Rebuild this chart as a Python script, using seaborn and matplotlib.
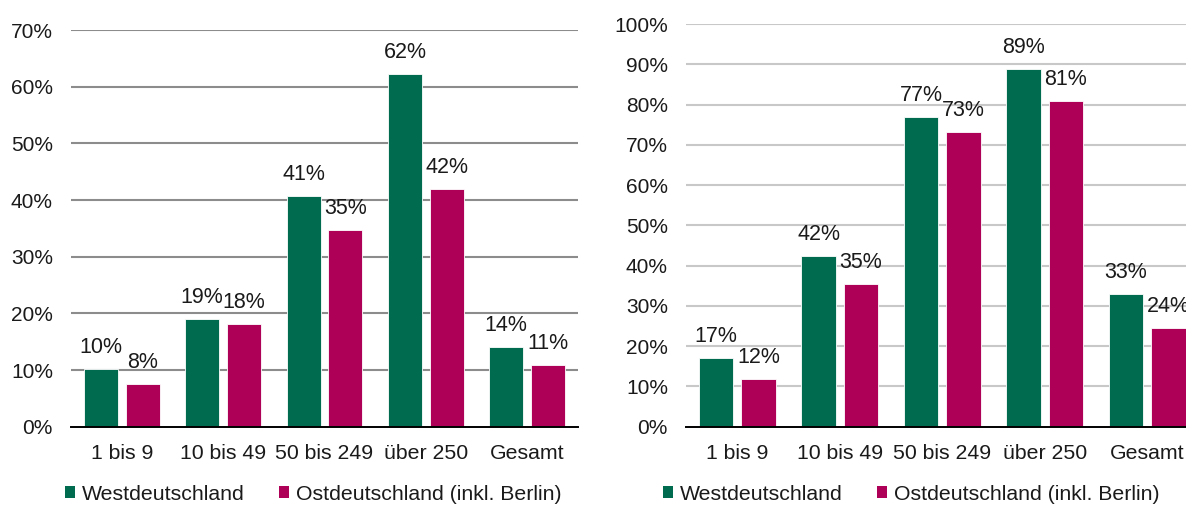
import matplotlib
matplotlib.use("Agg")
import matplotlib.pyplot as plt
from matplotlib.patches import Patch
import pandas as pd
import seaborn as sns

# Betriebsgrößenklassen (Beschäftigte)
categories = ["1 bis 9", "10 bis 49", "50 bis 249", "über 250", "Gesamt"]
regions = ["Westdeutschland", "Ostdeutschland (inkl. Berlin)"]

# Anteile in Prozent, linkes Diagramm
left_west = [10.1, 19.0, 40.7, 62.2, 14.1]
left_east = [7.6, 18.1, 34.7, 41.9, 10.9]

# Anteile in Prozent, rechtes Diagramm
right_west = [17.0, 42.4, 76.8, 88.8, 33.0]
right_east = [11.9, 35.4, 73.2, 80.9, 24.4]

left_ticks = [0, 10, 20, 30, 40, 50, 60, 70]
right_ticks = [0, 10, 20, 30, 40, 50, 60, 70, 80, 90, 100]

GREEN = "#006B4F"
MAGENTA = "#AE0057"
palette = {regions[0]: GREEN, regions[1]: MAGENTA}
TEXT = "#1a1a1a"


def long_frame(west, east):
    return pd.DataFrame({
        "Kategorie": categories * 2,
        "Region": [regions[0]] * len(categories) + [regions[1]] * len(categories),
        "Anteil": list(west) + list(east),
    })


sns.set_theme(style="white")
plt.rcParams["font.family"] = ["Liberation Sans", "DejaVu Sans"]

fig = plt.figure(figsize=(11.86, 5.05), dpi=100)
ax_l = fig.add_axes([71 / 1186, 78.3 / 505, 507 / 1186, 396.7 / 505])
# the right panel runs past the figure's right edge
ax_r = fig.add_axes([686 / 1186, 78.3 / 505, 512.5 / 1186, 402.7 / 505])


def draw_panel(ax, west, east, ticks, grid_color):
    df = long_frame(west, east)
    sns.barplot(data=df, x="Kategorie", y="Anteil", hue="Region",
                palette=palette, saturation=1, width=0.828, gap=0.19,
                legend=False, edgecolor="white", linewidth=0.6, ax=ax,
                zorder=3)
    ax.set_ylim(ticks[0], ticks[-1])
    ax.set_xlim(-0.5, len(categories) - 0.5)
    ax.set_yticks(ticks)
    ax.set_yticklabels([f"{t}%" for t in ticks], fontsize=15, color=TEXT)
    ax.tick_params(axis="y", length=0, pad=13)
    ax.tick_params(axis="x", length=0, pad=12.5, labelsize=15.3, labelcolor=TEXT)
    ax.set_xlabel("")
    ax.set_ylabel("")
    for t in ticks[1:]:
        ax.axhline(t, color=grid_color, lw=1.5, zorder=1)
    for side in ["left", "right", "top"]:
        ax.spines[side].set_visible(False)
    ax.spines["bottom"].set_color("black")
    ax.spines["bottom"].set_linewidth(1.4)
    ax.spines["bottom"].set_zorder(4)
    for cont in ax.containers:
        vals = [b.get_height() for b in cont]
        ax.bar_label(cont, labels=[f"{v:.0f}%" for v in vals], padding=8,
                     fontsize=15.5, color=TEXT)


draw_panel(ax_l, left_west, left_east, left_ticks, "#8c8c8c")
draw_panel(ax_r, right_west, right_east, right_ticks, "#c8c8c8")

handles = [Patch(facecolor=palette[r], edgecolor="none") for r in regions]
for cx in (313 / 1186, 911 / 1186):
    fig.legend(handles, regions, loc="center", bbox_to_anchor=(cx, 11 / 505),
               ncol=2, frameon=False, fontsize=15.3, handlelength=0.5,
               handleheight=0.5, handletextpad=0.3, columnspacing=1.6,
               borderaxespad=0, borderpad=0, labelcolor=TEXT)

fig.savefig("out.png", dpi=100)
